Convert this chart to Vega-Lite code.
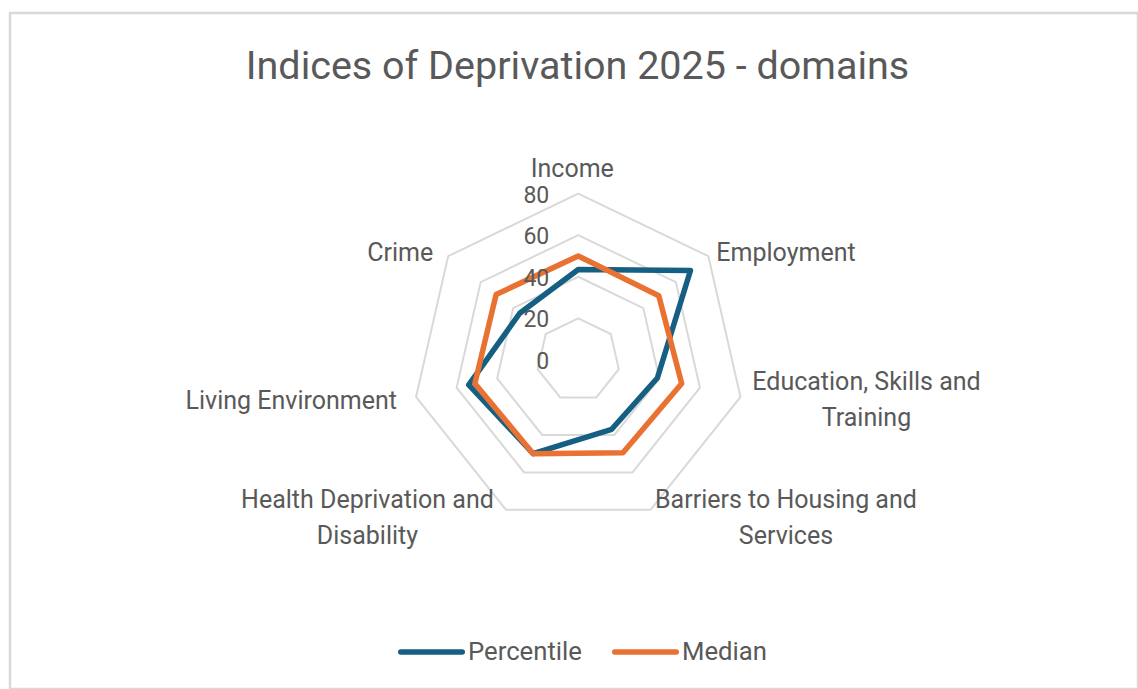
{
  "$schema": "https://vega.github.io/schema/vega-lite/v6.json",
  "width": 1128,
  "height": 676,
  "autosize": {"type": "none"},
  "padding": {"left": 10, "top": 13, "right": 0, "bottom": 0},
  "background": "white",
  "config": {"view": {"stroke": "#d9d9d9", "strokeWidth": 2.5}, "font": "Roboto"},
  "title": {
    "text": "Indices of Deprivation 2025 - domains",
    "font": "Roboto",
    "fontSize": 39.5,
    "fontWeight": "normal",
    "color": "#595959",
    "anchor": "middle",
    "frame": "group",
    "baseline": "alphabetic",
    "offset": 0,
    "dy": 105,
    "dx": 3.5
  },
  "datasets": {
    "series": [
      {"series": "Percentile", "domain": "Income", "idx": 0, "value": 43.5},
      {"series": "Percentile", "domain": "Employment", "idx": 1, "value": 69},
      {"series": "Percentile", "domain": "Education, Skills and Training", "idx": 2, "value": 39},
      {"series": "Percentile", "domain": "Barriers to Housing and Services", "idx": 3, "value": 37},
      {"series": "Percentile", "domain": "Health Deprivation and Disability", "idx": 4, "value": 50},
      {"series": "Percentile", "domain": "Living Environment", "idx": 5, "value": 54},
      {"series": "Percentile", "domain": "Crime", "idx": 6, "value": 36},
      {"series": "Median", "domain": "Income", "idx": 0, "value": 50},
      {"series": "Median", "domain": "Employment", "idx": 1, "value": 49.5},
      {"series": "Median", "domain": "Education, Skills and Training", "idx": 2, "value": 51},
      {"series": "Median", "domain": "Barriers to Housing and Services", "idx": 3, "value": 49.5},
      {"series": "Median", "domain": "Health Deprivation and Disability", "idx": 4, "value": 50},
      {"series": "Median", "domain": "Living Environment", "idx": 5, "value": 51},
      {"series": "Median", "domain": "Crime", "idx": 6, "value": 50.5}
    ],
    "rings": [
      {"level": 20, "k": [0, 1, 2, 3, 4, 5, 6]},
      {"level": 40, "k": [0, 1, 2, 3, 4, 5, 6]},
      {"level": 60, "k": [0, 1, 2, 3, 4, 5, 6]},
      {"level": 80, "k": [0, 1, 2, 3, 4, 5, 6]}
    ],
    "ticks": [
      {"level": 0}, {"level": 20}, {"level": 40}, {"level": 60}, {"level": 80}
    ],
    "cats": [
      {"domain": "Income", "idx": 0, "label": "Income"},
      {"domain": "Employment", "idx": 1, "label": "Employment"},
      {"domain": "Education, Skills and Training", "idx": 2, "label": ["Education, Skills and", "Training"]},
      {"domain": "Barriers to Housing and Services", "idx": 3, "label": ["Barriers to Housing and", "Services"]},
      {"domain": "Health Deprivation and Disability", "idx": 4, "label": ["Health Deprivation and", "Disability"]},
      {"domain": "Living Environment", "idx": 5, "label": "Living Environment"},
      {"domain": "Crime", "idx": 6, "label": "Crime"}
    ]
  },
  "layer": [
    {
      "data": {"name": "rings"},
      "transform": [
        {"flatten": ["k"]},
        {"calculate": "datum.k * 2 * PI / 7", "as": "a"},
        {"calculate": "datum.level * sin(datum.a)", "as": "px"},
        {"calculate": "datum.level * cos(datum.a)", "as": "py"}
      ],
      "mark": {"type": "line", "interpolate": "linear-closed", "stroke": "#d9d9d9", "strokeWidth": 2},
      "encoding": {
        "x": {"field": "px", "type": "quantitative", "scale": {"domain": [-273.2, 269.1], "nice": false, "zero": false}, "axis": null},
        "y": {"field": "py", "type": "quantitative", "scale": {"domain": [-158.2, 166.8], "nice": false, "zero": false}, "axis": null},
        "detail": {"field": "level"},
        "order": {"field": "k"}
      }
    },
    {
      "data": {"name": "series"},
      "transform": [
        {"calculate": "datum.idx * 2 * PI / 7", "as": "a"},
        {"calculate": "datum.value * sin(datum.a)", "as": "px"},
        {"calculate": "datum.value * cos(datum.a)", "as": "py"}
      ],
      "mark": {"type": "line", "interpolate": "linear-closed", "strokeWidth": 5.5, "strokeJoin": "round"},
      "encoding": {
        "x": {"field": "px", "type": "quantitative", "scale": {"domain": [-273.2, 269.1], "nice": false, "zero": false}, "axis": null},
        "y": {"field": "py", "type": "quantitative", "scale": {"domain": [-158.2, 166.8], "nice": false, "zero": false}, "axis": null},
        "color": {
          "field": "series",
          "type": "nominal",
          "scale": {"domain": ["Percentile", "Median"], "range": ["#156082", "#E97132"]},
          "legend": {
            "title": null,
            "orient": "none",
            "direction": "horizontal",
            "legendX": 388,
            "legendY": 605,
            "padding": 0,
            "symbolType": "stroke",
            "symbolSize": 3782,
            "symbolStrokeWidth": 5.5,
            "labelFont": "Roboto",
            "labelFontSize": 25.7,
            "labelColor": "#595959",
            "labelOffset": 3,
            "columnPadding": 21,
            "encode": {"symbols": {"update": {"strokeCap": {"value": "round"}}}}
          }
        },
        "order": {"field": "idx"}
      }
    },
    {
      "data": {"name": "ticks"},
      "mark": {"type": "text", "align": "right", "baseline": "middle", "dx": -29, "dy": 2, "fontSize": 23, "font": "Roboto", "fill": "#595959"},
      "encoding": {
        "x": {"datum": 0, "type": "quantitative", "scale": {"domain": [-273.2, 269.1], "nice": false, "zero": false}, "axis": null},
        "y": {"field": "level", "type": "quantitative", "scale": {"domain": [-158.2, 166.8], "nice": false, "zero": false}, "axis": null},
        "text": {"field": "level"}
      }
    },
    {
      "data": {"name": "cats"},
      "transform": [
        {"calculate": "datum.idx * 2 * PI / 7", "as": "a"},
        {"calculate": "80 * sin(datum.a)", "as": "px"},
        {"calculate": "80 * cos(datum.a)", "as": "py"}
      ],
      "encoding": {
        "x": {"field": "px", "type": "quantitative", "scale": {"domain": [-273.2, 269.1], "nice": false, "zero": false}, "axis": null},
        "y": {"field": "py", "type": "quantitative", "scale": {"domain": [-158.2, 166.8], "nice": false, "zero": false}, "axis": null},
        "text": {"field": "label"}
      },
      "layer": [
        {"transform": [{"filter": "datum.idx == 0"}], "mark": {"type": "text", "align": "center", "baseline": "middle", "dx": -6, "dy": -25, "fontSize": 25, "font": "Roboto", "fill": "#595959", "lineHeight": 36}},
        {"transform": [{"filter": "datum.idx == 1"}], "mark": {"type": "text", "align": "left", "baseline": "middle", "dx": 8, "dy": -3, "fontSize": 25, "font": "Roboto", "fill": "#595959", "lineHeight": 36}},
        {"transform": [{"filter": "datum.idx == 2"}], "mark": {"type": "text", "align": "center", "baseline": "middle", "dx": 126, "dy": -15, "fontSize": 25, "font": "Roboto", "fill": "#595959", "lineHeight": 36}},
        {"transform": [{"filter": "datum.idx == 3"}], "mark": {"type": "text", "align": "center", "baseline": "middle", "dx": 135.5, "dy": -10, "fontSize": 25, "font": "Roboto", "fill": "#595959", "lineHeight": 36}},
        {"transform": [{"filter": "datum.idx == 4"}], "mark": {"type": "text", "align": "center", "baseline": "middle", "dx": -138.6, "dy": -10, "fontSize": 25, "font": "Roboto", "fill": "#595959", "lineHeight": 36}},
        {"transform": [{"filter": "datum.idx == 5"}], "mark": {"type": "text", "align": "right", "baseline": "middle", "dx": -19, "dy": 4, "fontSize": 25, "font": "Roboto", "fill": "#595959", "lineHeight": 36}},
        {"transform": [{"filter": "datum.idx == 6"}], "mark": {"type": "text", "align": "right", "baseline": "middle", "dx": -15, "dy": -3, "fontSize": 25, "font": "Roboto", "fill": "#595959", "lineHeight": 36}}
      ]
    }
  ]
}
